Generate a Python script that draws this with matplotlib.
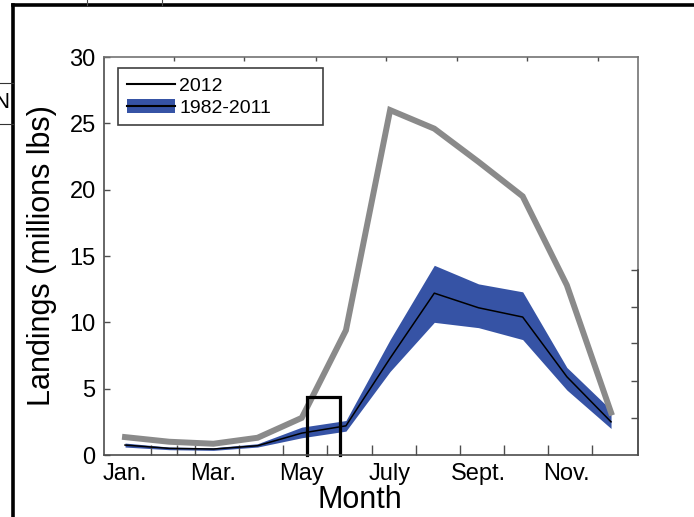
import matplotlib.pyplot as plt
from matplotlib.lines import Line2D
from matplotlib.patches import Patch

plt.rcParams['font.family'] = ['Liberation Sans', 'DejaVu Sans']

# monthly landings, millions of lbs
months = list(range(1, 13))
month_labels = ['Jan.', 'Mar.', 'May', 'July', 'Sept.', 'Nov.']
label_months = [1, 3, 5, 7, 9, 11]

landings_2012 = [1.35, 1.0, 0.85, 1.3, 2.8, 9.4, 26.0, 24.6, 22.1, 19.5, 12.8, 3.2]
mean_8211 = [0.75, 0.5, 0.45, 0.7, 1.65, 2.2, 7.3, 12.2, 11.1, 10.4, 5.9, 2.5]
upper_8211 = [0.9, 0.6, 0.55, 0.85, 2.1, 2.6, 8.7, 14.3, 12.9, 12.3, 6.6, 3.4]
lower_8211 = [0.6, 0.4, 0.35, 0.6, 1.3, 1.8, 6.3, 10.0, 9.6, 8.7, 4.9, 2.0]

# highlighted window in May
box_x = [5.12, 5.86]
box_top = 4.37

blue = '#3653a5'
gray = '#8a8a8a'

fig = plt.figure(figsize=(6.94, 5.17), dpi=100)
ax = fig.add_axes([0.1499, 0.1199, 0.7694, 0.7698])

ax.fill_between(months, lower_8211, upper_8211, color=blue, lw=0)
ax.plot(months, mean_8211, color='black', lw=1.1)
ax.plot(months, landings_2012, color=gray, lw=4.3, solid_joinstyle='miter')
ax.plot([box_x[0], box_x[0], box_x[1], box_x[1]], [0, box_top, box_top, 0],
        color='black', lw=2.3, clip_on=False, solid_joinstyle='miter')

ax.set_xlim(0.525, 12.61)
ax.set_ylim(0, 30)
ax.set_xticks(label_months)
ax.set_xticklabels(month_labels)
ax.set_xticks([1.58 + k for k in range(11)] + [2.18], minor=True)
ax.set_yticks(range(0, 31, 5))
ax.tick_params(axis='x', which='major', length=0, labelsize=17, pad=6)
ax.tick_params(axis='x', which='minor', direction='in', length=7, width=1, color='0.3')
ax.tick_params(axis='y', direction='in', length=4, width=1, color='0.3', labelsize=17, pad=6)

for side, sp in ax.spines.items():
    sp.set_color('0.45' if side in ('top', 'right') else '0.3')
    sp.set_linewidth(1.2)

# overlaid axes carrying the extra tick marks on top and right
ax2 = ax.twinx()
ax2.set_ylim(0, 30)
ax2.set_yticks([2.79, 5.58, 8.44, 11.15, 13.94])
ax2.tick_params(axis='y', direction='in', length=5, width=1, color='0.3', labelright=False)
ax2.spines['right'].set_bounds(0, 13.94)
ax2.spines['right'].set_color('0.3')
ax2.spines['right'].set_linewidth(1.2)
for side in ('top', 'left', 'bottom'):
    ax2.spines[side].set_visible(False)

ax3 = ax.twiny()
ax3.set_xlim(ax.get_xlim())
ax3.set_xticks([2.11, 3.69, 5.32, 6.90, 8.51, 10.09, 11.70])
ax3.tick_params(axis='x', direction='in', length=3, width=1, color='0.3', labeltop=False)
for side in ('top', 'right', 'left', 'bottom'):
    ax3.spines[side].set_visible(False)

ax.set_ylabel('Landings (millions lbs)', fontsize=22, labelpad=9)
ax.set_xlabel('Month', fontsize=22)
ax.xaxis.set_label_coords(0.48, -0.075, transform=ax.transAxes)

handles = [Line2D([], [], color='black', lw=1.5),
           (Patch(facecolor=blue, edgecolor='none'), Line2D([], [], color='black', lw=1.5))]
leg = ax.legend(handles, ['2012', '1982-2011'], loc='upper left',
                bbox_to_anchor=(0.026, 0.834, 0.384, 0.138), mode='expand',
                fontsize=14, handlelength=2.5, handleheight=0.75, handletextpad=0.2,
                borderpad=0.45, labelspacing=0.2, fancybox=False, framealpha=1,
                borderaxespad=0)
leg.get_frame().set_edgecolor('0.25')
leg.get_frame().set_linewidth(1.2)

# page frame around the figure
W, H = 694, 517
def px_line(xs, ys, lw, color='black'):
    fig.add_artist(Line2D([x / W for x in xs], [1 - y / H for y in ys],
                          lw=lw, color=color, transform=fig.transFigure))

px_line([13, 694], [5, 5], 2.6)
px_line([13, 13], [5, 517], 2.6)
px_line([87, 87], [0, 5], 0.8, '0.3')
px_line([162, 162], [0, 5], 0.8, '0.3')
px_line([0, 13], [83, 83], 0.8, '0.2')
px_line([0, 13], [124, 124], 0.8, '0.2')
fig.text(9 / W, 1 - 103 / H, 'N', fontsize=16, ha='right', va='center')

fig.savefig('out.png', dpi=100)
